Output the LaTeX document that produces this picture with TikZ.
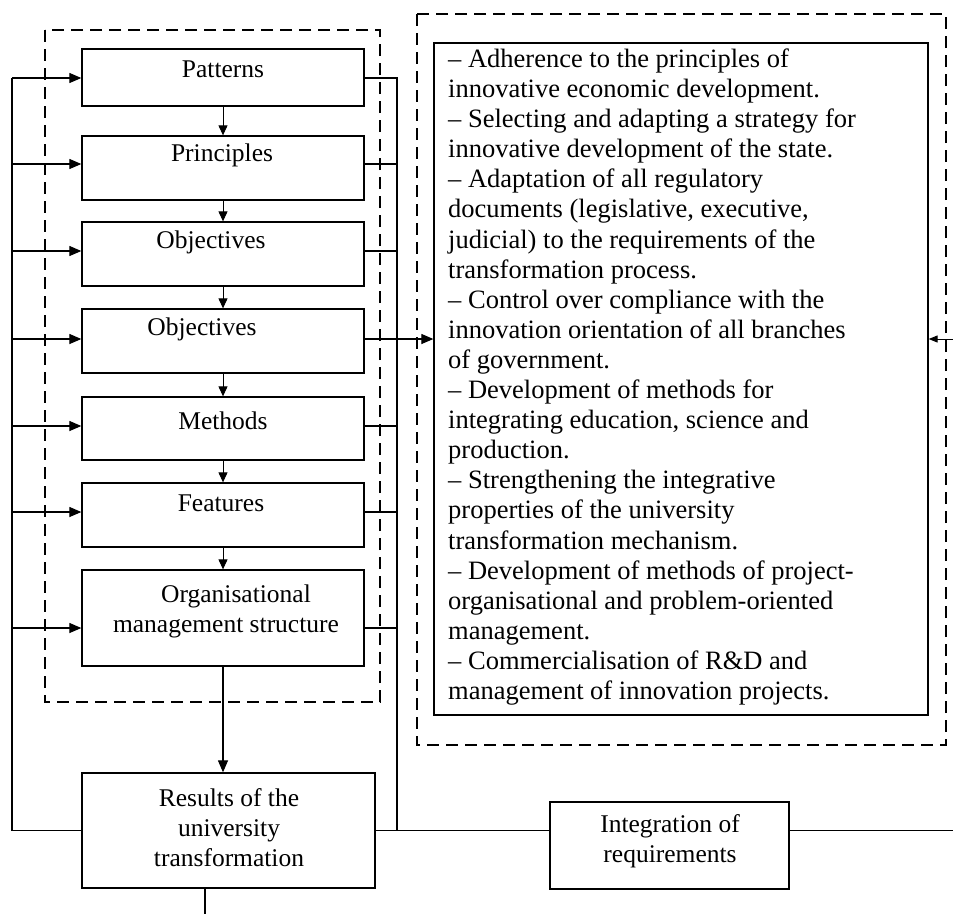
\documentclass[tikz,border=0pt]{standalone}
\usepackage{fontspec}
\setmainfont{Liberation Serif}
\usetikzlibrary{arrows.meta}
\begin{document}
\begin{tikzpicture}[x=1pt,y=-1pt,
  box/.style={draw, line width=1.3pt, inner sep=0pt},
  txt/.style={font=\fontsize{25.5}{30}\selectfont, inner sep=0pt, align=center},
  ltxt/.style={font=\fontsize{26.5}{30.1}\selectfont, inner sep=0pt, align=left},
  dbox/.style={draw, line width=1.3pt, dash pattern=on 12pt off 7pt},
  conn/.style={line width=1.2pt},
  arr/.style={line width=1.2pt, -{Triangle[length=12pt,width=10pt]}},
  varr/.style={line width=1pt, -{Triangle[length=10pt,width=9pt]}},
  sarr/.style={line width=1pt, -{Triangle[length=9pt,width=7pt]}},
]
\useasboundingbox (0,0) rectangle (953,914);
% dashed frames
\draw[dbox] (45,30) rectangle (380,702);
\draw[dbox] (417,14) rectangle (946,745);
% boxes
\node[box, minimum width=282pt, minimum height=57pt] (pat) at (223,77.5) {};
\node[box, minimum width=282pt, minimum height=64pt] (pri) at (223,168) {};
\node[box, minimum width=282pt, minimum height=64pt] (ob1) at (223,254) {};
\node[box, minimum width=282pt, minimum height=64pt] (ob2) at (223,341) {};
\node[box, minimum width=282pt, minimum height=63pt] (met) at (223,428.5) {};
\node[box, minimum width=282pt, minimum height=64pt] (fea) at (223,515) {};
\node[box, minimum width=282pt, minimum height=96pt] (org) at (223,618) {};
\node[box, minimum width=293pt, minimum height=115pt] (res) at (228.5,830.5) {};
\node[box, minimum width=239pt, minimum height=87pt] (int) at (669.5,845.5) {};
\node[box, minimum width=494pt, minimum height=672pt] (lst) at (681,379) {};
% texts
\node[txt] (tpat) at (223,69) {Patterns};
\node[txt] (tpri) at (222,155) {Principles};
\node[txt] (tob1) at (211,242) {Objectives};
\node[txt] (tob2) at (202,329) {Objectives};
\node[txt] (tmet) at (223,421) {Methods};
\node[txt] (tfea) at (221,503) {Features};
\node[txt] (torg) at (226,611) {\hspace*{20pt}Organisational\\management structure};
\node[txt] (tres) at (229,828) {Results of the\\university\\transformation};
\node[txt] (tint) at (670,841) {Integration of\\requirements};
\node[ltxt, anchor=west] (tlst) at (448,377) {%
-- Adherence to the principles of\\
innovative economic development.\\
-- Selecting and adapting a strategy for\\
innovative development of the state.\\
-- Adaptation of all regulatory\\
documents (legislative, executive,\\
judicial) to the requirements of the\\
transformation process.\\
-- Control over compliance with the\\
innovation orientation of all branches\\
of government.\\
-- Development of methods for\\
integrating education, science and\\
production.\\
-- Strengthening the integrative\\
properties of the university\\
transformation mechanism.\\
-- Development of methods of project-\\
organisational and problem-oriented\\
management.\\
-- Commercialisation of R\&D and\\
management of innovation projects.};
% vertical chain
\draw[varr] (pat.south) -- (pri.north);
\draw[varr] (pri.south) -- (ob1.north);
\draw[varr] (ob1.south) -- (ob2.north);
\draw[varr] (ob2.south) -- (met.north);
\draw[varr] (met.south) -- (fea.north);
\draw[varr] (fea.south) -- (org.north);
\draw[arr] (org.south) -- (org.south |- res.north);
% left feedback spine
\coordinate (L1) at (12,78);
\coordinate (L2) at (12,164);
\coordinate (L3) at (12,251);
\coordinate (L4) at (12,339);
\coordinate (L5) at (12,426);
\coordinate (L6) at (12,512);
\coordinate (L7) at (12,628);
\draw[conn] (res.west) -| (L1);
\draw[arr] (L1) -- (L1 -| pat.west);
\draw[arr] (L2) -- (L2 -| pri.west);
\draw[arr] (L3) -- (L3 -| ob1.west);
\draw[arr] (L4) -- (L4 -| ob2.west);
\draw[arr] (L5) -- (L5 -| met.west);
\draw[arr] (L6) -- (L6 -| fea.west);
\draw[arr] (L7) -- (L7 -| org.west);
% right spine
\coordinate (R1) at (397,78);
\coordinate (R2) at (397,164);
\coordinate (R3) at (397,251);
\coordinate (R4) at (397,339);
\coordinate (R5) at (397,426);
\coordinate (R6) at (397,512);
\coordinate (R7) at (397,628);
\coordinate (Rb) at (397,830.5);
\draw[conn] (R1 -| pat.east) -- (R1) -- (Rb);
\draw[conn] (R2 -| pri.east) -- (R2);
\draw[conn] (R3 -| ob1.east) -- (R3);
\draw[arr] (R4 -| ob2.east) -- (R4 -| lst.west);
\draw[conn] (R5 -| met.east) -- (R5);
\draw[conn] (R6 -| fea.east) -- (R6);
\draw[conn] (R7 -| org.east) -- (R7);
% bottom links
\draw[conn] (res.east) -- (res.east -| int.west);
\coordinate (Re) at (953,830.5);
\draw[conn] (Re -| int.east) -- (Re);
\coordinate (Rin) at (953,339);
\draw[sarr] (Rin) -- (Rin -| lst.east);
\coordinate (B) at (205,914);
\draw[conn] (B |- res.south) -- (B);
\end{tikzpicture}
\end{document}
